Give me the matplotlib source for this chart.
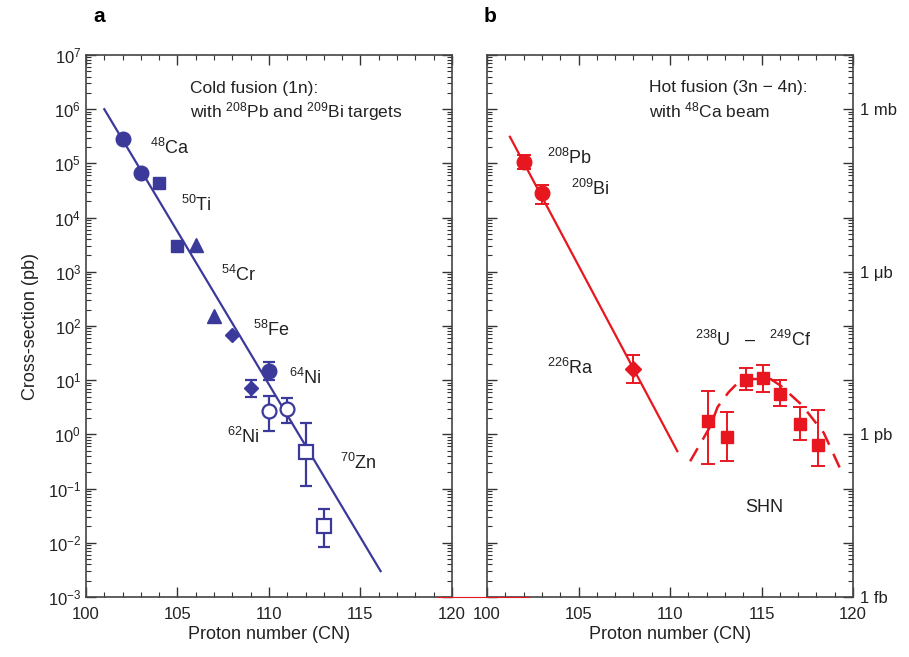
import matplotlib
matplotlib.use("Agg")
import matplotlib.pyplot as plt
from matplotlib.ticker import MultipleLocator, LogLocator, FuncFormatter, NullFormatter
from matplotlib.lines import Line2D

plt.rcParams['font.family'] = ['Liberation Sans', 'DejaVu Sans']
plt.rcParams['mathtext.fontset'] = 'custom'
plt.rcParams['mathtext.rm'] = 'Liberation Sans'
plt.rcParams['mathtext.it'] = 'Liberation Sans'
plt.rcParams['mathtext.bf'] = 'Liberation Sans:bold'
plt.rcParams['font.size'] = 12

BLUE = '#3b3a9a'
RED = '#e8171f'

# ---- panel a: cold fusion ----
cold_fit_z = [101.0, 116.1]
cold_fit_y = [1.0e6, 3.0e-3]

ca_z = [102, 103]
ca_y = [2.8e5, 6.6e4]
ti_z = [104, 105]
ti_y = [4.4e4, 3.0e3]
cr_z = [106, 107]
cr_y = [3.1e3, 1.5e2]
fe_z = [108, 109]
fe_y = [67, 7.2]
fe_lo = [67, 4.9]
fe_hi = [67, 10]
ni64_z = [110]
ni64_y = [15]
ni64_lo = [10]
ni64_hi = [22]
ni62_z = [110, 111]
ni62_y = [2.7, 2.9]
ni62_lo = [1.16, 1.6]
ni62_hi = [5.1, 4.7]
zn_z = [112, 113]
zn_y = [0.48, 0.020]
zn_lo = [0.11, 0.0083]
zn_hi = [1.6, 0.042]

cold_labels = ['$^{48}$Ca', '$^{50}$Ti', '$^{54}$Cr', '$^{58}$Fe', '$^{64}$Ni', '$^{62}$Ni', '$^{70}$Zn']
cold_label_z = [103.5, 105.2, 107.4, 109.1, 111.1, 107.7, 113.9]
cold_label_y = [1.9e5, 1.7e4, 8.7e2, 85, 11, 0.9, 0.3]

# ---- panel b: hot fusion ----
hot_fit_z = [101.25, 110.4]
hot_fit_y = [3.1e5, 0.49]

pbbi_z = [102, 103]
pbbi_y = [1.07e5, 2.8e4]
pbbi_lo = [7.9e4, 1.8e4]
pbbi_hi = [1.4e5, 4.0e4]
ra_z = [108]
ra_y = [16]
ra_lo = [8.9]
ra_hi = [29]
shn_z = [112.1, 113.1, 114.15, 115.1, 116.0, 117.1, 118.1]
shn_y = [1.77, 0.9, 10, 11, 5.6, 1.55, 0.64]
shn_lo = [0.28, 0.32, 6.6, 6.0, 3.3, 0.8, 0.26]
shn_hi = [6.3, 2.6, 16.6, 19, 10, 3.2, 2.8]
shn_curve_z = [111.1, 112.2, 112.6, 113.2, 113.7, 114.5, 115.5, 116.05, 117.2, 118.4, 119.45]
shn_curve_y = [0.32, 1.4, 3.2, 6.0, 8.9, 10.5, 10.5, 7.9, 3.5, 1.07, 0.18]

hot_labels = ['$^{208}$Pb', '$^{209}$Bi', '$^{226}$Ra', '$^{238}$U   \u2013   $^{249}$Cf', 'SHN']
hot_label_z = [103.3, 104.6, 103.3, 111.35, 114.1]
hot_label_y = [1.26e5, 3.4e4, 16.6, 55, 0.044]

unit_vals = [1e6, 1e3, 1e0, 1e-3]
unit_labels = ['1 mb', '1 \u03bcb', '1 pb', '1 fb']


def err(y, lo, hi):
    return [[a - b for a, b in zip(y, lo)], [c - a for a, c in zip(y, hi)]]


def unit_fmt(v, pos):
    for u, lab in zip(unit_vals, unit_labels):
        if abs(u / v - 1) < 1e-6:
            return lab
    return ''


def style_axes(ax):
    ax.set_yscale('log')
    ax.set_xlim(100, 120)
    ax.set_ylim(1e-3, 1e7)
    ax.xaxis.set_major_locator(MultipleLocator(5))
    ax.xaxis.set_minor_locator(MultipleLocator(1))
    ax.yaxis.set_major_locator(LogLocator(base=10, numticks=20))
    ax.yaxis.set_minor_locator(LogLocator(base=10, subs=range(2, 10), numticks=20))
    ax.yaxis.set_minor_formatter(NullFormatter())
    ax.tick_params(which='both', direction='in', top=True, right=True, colors='#333333',
                   labelcolor='#222222', labelsize=12)
    ax.tick_params(which='major', length=7, width=1.0)
    ax.tick_params(which='minor', length=3.5, width=0.8)
    ax.tick_params(axis='x', which='major', pad=7)
    for s in ax.spines.values():
        s.set_color('#444444')
        s.set_linewidth(1.2)
    ax.set_xlabel('Proton number (CN)', fontsize=13, color='#222222', labelpad=3)


fig = plt.figure(figsize=(9.09, 6.57), dpi=100)
axa = fig.add_axes([0.0946, 0.0913, 0.4026, 0.825])
axb = fig.add_axes([0.5358, 0.0913, 0.4026, 0.825])

# panel a
style_axes(axa)
axa.set_ylabel('Cross-section (pb)', fontsize=13, color='#222222', labelpad=6)
axa.plot(cold_fit_z, cold_fit_y, color=BLUE, lw=1.6, zorder=2)
axa.plot(ca_z, ca_y, 'o', color=BLUE, ms=10.5, zorder=3)
axa.plot(ti_z, ti_y, 's', color=BLUE, ms=9, zorder=3)
axa.plot(cr_z, cr_y, '^', color=BLUE, ms=9.5, zorder=3)
axa.errorbar(fe_z, fe_y, yerr=err(fe_y, fe_lo, fe_hi), fmt='D', color=BLUE, ms=7.5,
             capsize=4.5, elinewidth=1.6, capthick=1.6, zorder=3)
axa.errorbar(ni64_z, ni64_y, yerr=err(ni64_y, ni64_lo, ni64_hi), fmt='o', color=BLUE, ms=10.5,
             capsize=4.5, elinewidth=1.6, capthick=1.6, zorder=3)
axa.errorbar(ni62_z, ni62_y, yerr=err(ni62_y, ni62_lo, ni62_hi), fmt='o', color=BLUE, ms=10,
             mfc='white', mew=1.6, capsize=4.5, elinewidth=1.6, capthick=1.6, zorder=3)
axa.errorbar(zn_z, zn_y, yerr=err(zn_y, zn_lo, zn_hi), fmt='s', color=BLUE, ms=9.5,
             mfc='white', mew=1.6, capsize=4.5, elinewidth=1.6, capthick=1.6, zorder=3)
for t, z, y in zip(cold_labels, cold_label_z, cold_label_y):
    axa.text(z, y, t, fontsize=13, va='center', ha='left', color='#222222')
axa.text(105.7, 2.45e6, 'Cold fusion (1n):', fontsize=12.5, va='center', color='#222222')
axa.text(105.7, 9.0e5, 'with $^{208}$Pb and $^{209}$Bi targets', fontsize=12.5, va='center',
         color='#222222')

# panel b
style_axes(axb)
axb.yaxis.set_major_formatter(FuncFormatter(unit_fmt))
axb.tick_params(axis='y', which='both', labelleft=False, labelright=True, pad=5)
axb.plot(hot_fit_z, hot_fit_y, color=RED, lw=1.6, zorder=2)
axb.plot(shn_curve_z, shn_curve_y, color=RED, lw=1.8, ls=(0, (6, 4)), zorder=2)
axb.errorbar(pbbi_z, pbbi_y, yerr=err(pbbi_y, pbbi_lo, pbbi_hi), fmt='o', color=RED, ms=10.5,
             capsize=5, elinewidth=1.4, capthick=1.4, zorder=3)
axb.errorbar(ra_z, ra_y, yerr=err(ra_y, ra_lo, ra_hi), fmt='D', color=RED, ms=8.5,
             capsize=5, elinewidth=1.4, capthick=1.4, zorder=3)
axb.errorbar(shn_z, shn_y, yerr=err(shn_y, shn_lo, shn_hi), fmt='s', color=RED, ms=8.5,
             capsize=5, elinewidth=1.4, capthick=1.4, zorder=3)
for t, z, y in zip(hot_labels, hot_label_z, hot_label_y):
    axb.text(z, y, t, fontsize=13, va='center', ha='left', color='#222222')
axb.text(108.85, 2.55e6, 'Hot fusion (3n \u2212 4n):', fontsize=12.5, va='center', color='#222222')
axb.text(108.85, 9.3e5, 'with $^{48}$Ca beam', fontsize=12.5, va='center', color='#222222')

# panel letters
fig.text(0.109, 0.975, 'a', fontsize=15, fontweight='bold', va='center', ha='center')
fig.text(0.539, 0.975, 'b', fontsize=15, fontweight='bold', va='center', ha='center')

# thin red rule joining the panel bottoms
fig.add_artist(Line2D([0.481, 0.582], [0.0913, 0.0913], transform=fig.transFigure,
                      color=RED, lw=0.8))

fig.savefig('out.png', dpi=100)
